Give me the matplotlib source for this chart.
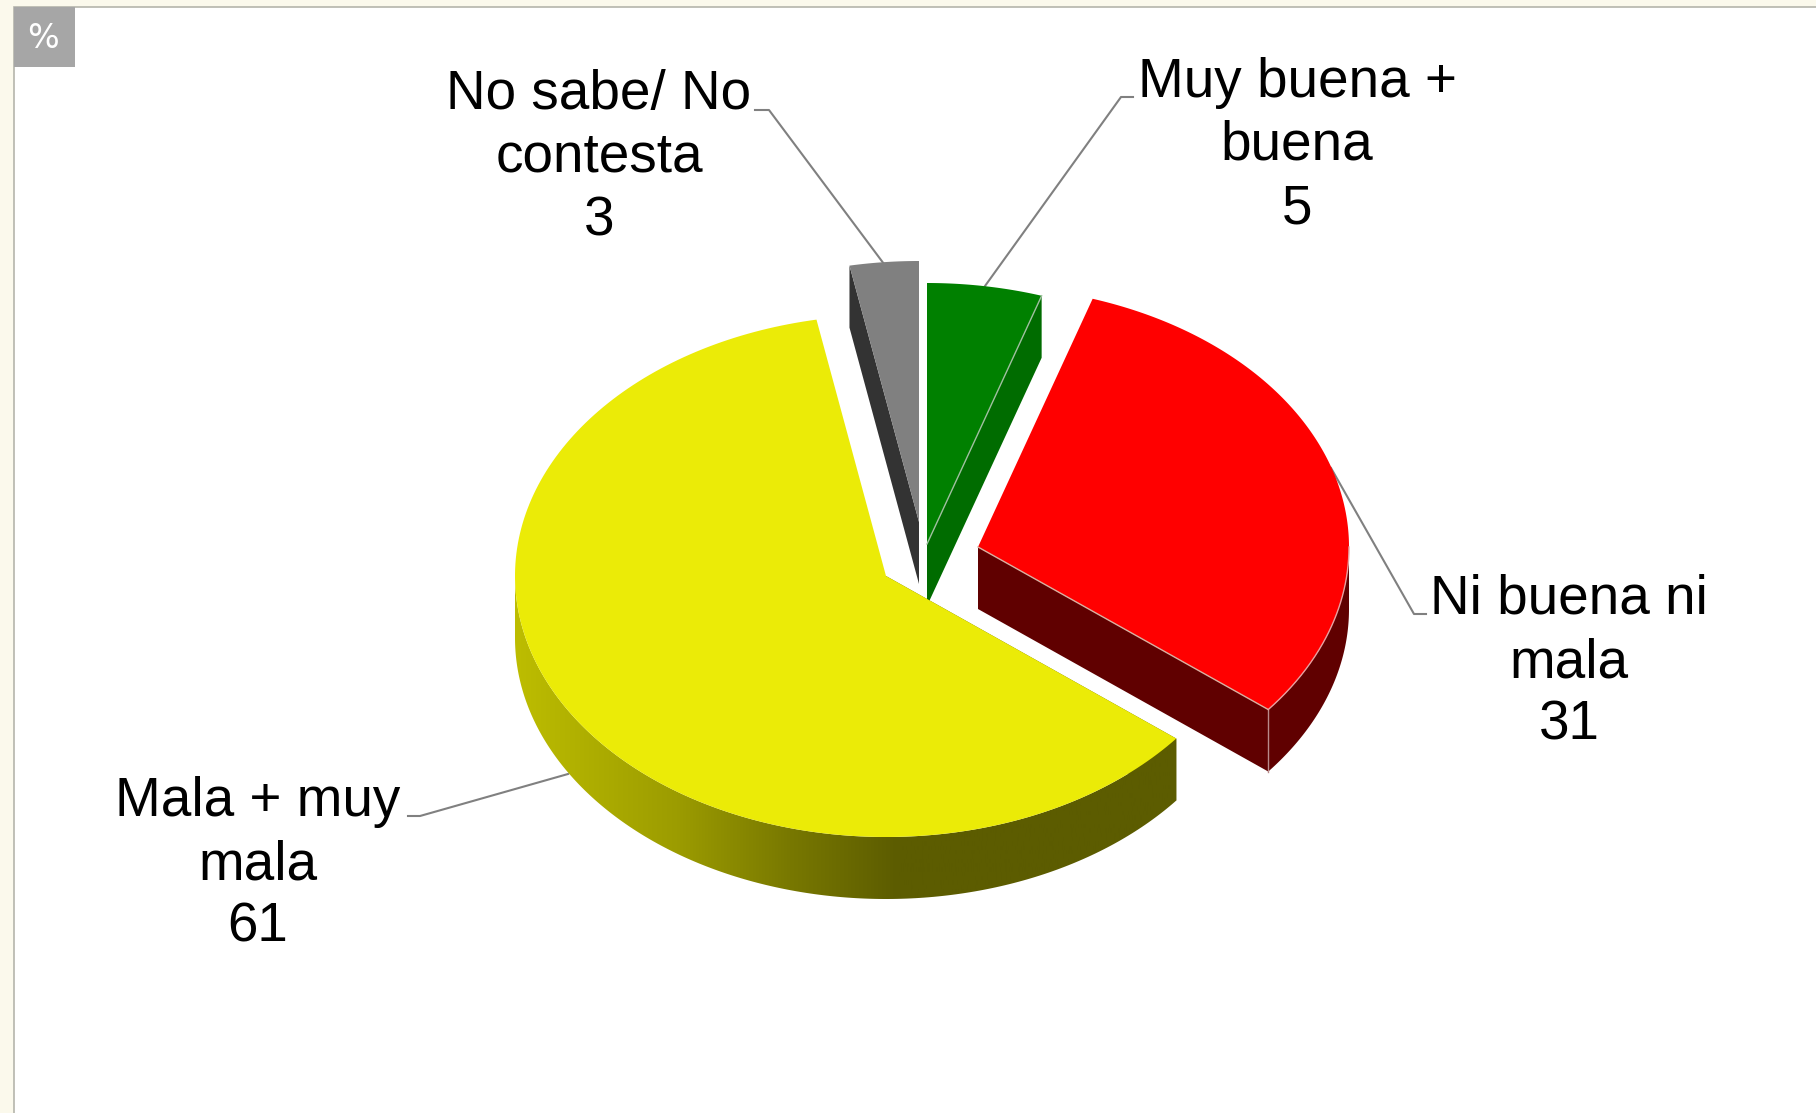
import numpy as np
import matplotlib
matplotlib.use("Agg")
import matplotlib.pyplot as plt
from matplotlib.patches import Polygon, Rectangle
from matplotlib.colors import LinearSegmentedColormap

categories = ["Muy buena +\nbuena", "Ni buena ni\nmala", "Mala + muy\nmala", "No sabe/ No\ncontesta"]
values = [5.0, 30.7, 61.3, 3.0]
top_colors = ["#008000", "#FF0000", "#EBEB07", "#808080"]
wall_colors = ["#006C00", "#600000", "#5C5C00", "#333333"]
draw_order = [3, 0, 1, 2]
label_centers = [(1297, 146), (1569, 663), (258, 865), (599, 158)]
leaders = [
    [(1133, 97), (1121, 97), (985, 286)],
    [(1426, 614), (1414, 614), (1331, 468)],
    [(408, 816), (420, 816), (568, 774)],
    [(755, 110), (769, 110), (884, 264)],
]
explode = [(-3, -13), (48, -10), (-44, 19), (-11, -35)]

CX, CY, RX, RY, DEPTH = 930, 557, 371, 261, 62
BG = "#FBF9EC"
FONT = "Liberation Sans"

fig = plt.figure(figsize=(18.16, 11.13), dpi=100, facecolor=BG)
ax = fig.add_axes([0, 0, 1, 1])
ax.set_xlim(0, 1816)
ax.set_ylim(1113, 0)
ax.axis("off")

ax.add_patch(Rectangle((14, 7), 1816, 1113, fc="white", ec="#B5B5AC", lw=1.2, zorder=0))
ax.add_patch(Rectangle((14, 7), 61, 60, fc="#A6A6A6", ec="none", zorder=1))
ax.text(43, 39, "%", color="white", fontsize=24, family="DejaVu Sans", ha="center", va="center", zorder=2)


def arc(cx, cy, a0, a1, n=200):
    t = np.radians(np.linspace(a0, a1, n))
    return np.column_stack([cx + RX * np.sin(t), cy - RY * np.cos(t)])


edges = np.concatenate([[0], np.cumsum(values)]) * 360.0 / sum(values)
wall_cmap = LinearSegmentedColormap.from_list(
    "w", [(0, "#BDBD00"), (0.24, "#9C9C00"), (0.41, "#787800"), (0.57, "#5C5C00"), (1, "#5C5C00")]
)
z = 3
for i in draw_order:
    a0, a1 = edges[i], edges[i + 1]
    cx, cy = CX + explode[i][0], CY + explode[i][1]
    top = arc(cx, cy, a0, a1)
    apex = np.array([cx, cy])
    d = np.array([0, DEPTH])

    # radial side wall
    end = a1 if a1 <= 180 else a0
    corner = arc(cx, cy, end, end, 1)[0]
    ax.add_patch(Polygon([apex, corner, corner + d, apex + d], fc=wall_colors[i], ec="none", zorder=z))
    z += 1

    # outer curved wall
    v0, v1 = max(a0, 90), min(a1, 270)
    if v1 > v0:
        rim = arc(cx, cy, v0, v1)
        wall = Polygon(np.vstack([rim, (rim + d)[::-1]]), fc=wall_colors[i], ec="none", zorder=z)
        ax.add_patch(wall)
        if i == 2:
            wall.set_facecolor("none")
            im = ax.imshow(np.linspace(0, 1, 256)[None, :], cmap=wall_cmap, aspect="auto",
                           extent=(cx - RX, cx + 300, 1113, 0), zorder=z)
            im.set_clip_path(wall)
            ax.set_xlim(0, 1816)
            ax.set_ylim(1113, 0)
        elif i == 1:
            ax.plot([corner[0], corner[0]], [corner[1], corner[1] + DEPTH], color="#B98A8A", lw=1.0, zorder=z + 1)
        z += 1

    # top face
    ax.add_patch(Polygon(np.vstack([apex, top]), fc=top_colors[i], ec="none", zorder=z))
    z += 1
    if i in (0, 1):
        ax.plot([apex[0], corner[0]], [apex[1], corner[1]], color="#D9B0A0" if i == 1 else "#9FBF9F", lw=1.0, zorder=z)
        if i == 1:
            ax.plot(rim[:, 0], rim[:, 1], color="#E8A0A0", lw=1.0, zorder=z)
        z += 1

for pts in leaders:
    xs, ys = zip(*pts)
    ax.plot(xs, ys, color="#808080", lw=1.5, zorder=2, solid_joinstyle="round")

for name, val, (x, y) in zip(categories, values, label_centers):
    ax.text(x, y, f"{name}\n{val:.0f}", ha="center", va="center", ma="center", fontsize=39.5,
            family=FONT, color="black", linespacing=1.275, zorder=50)

fig.savefig("out.png", dpi=100, facecolor=BG)
